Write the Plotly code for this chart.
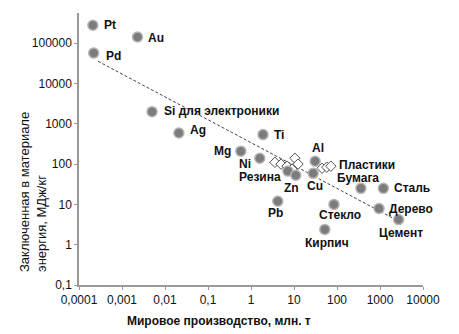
import plotly.graph_objects as go
import math

# ---- data ----
materials = ["Pt", "Au", "Pd", "Si для электроники", "Ag", "Mg", "Ti", "Ni", "Резина",
             "Zn", "Cu", "Al", "Бумага", "Сталь", "Дерево", "Цемент", "Стекло", "Кирпич", "Pb"]
production = [0.00021, 0.0023, 0.00022, 0.005, 0.021, 0.58, 1.9, 1.6, 7.2,
              11, 28, 31, 360, 1200, 950, 2700, 85, 52, 4.2]
energy = [280000, 143000, 57000, 2000, 590, 210, 540, 140, 67,
          53, 59, 118, 25, 25, 7.9, 4.2, 10, 2.4, 12]

plastics_label = "Пластики"
plastics_production = [3.6, 5.0, 6.9, 10.5, 12.4, 9.0, 45, 58, 72]
plastics_energy = [111, 100, 89, 140, 100, 75, 79, 84, 89]

trend_production = [0.000277, 2005]
trend_energy = [35700, 4.55]

x_tickvals = [0.0001, 0.001, 0.01, 0.1, 1, 10, 100, 1000, 10000]
x_ticktext = ["0,0001", "0,001", "0,01", "0,1", "1", "10", "100", "1000", "10000"]
y_tickvals = [0.1, 1, 10, 100, 1000, 10000, 100000]
y_ticktext = ["0,1", "1", "10", "100", "1000", "10000", "100000"]

x_title = "Мировое производство, млн. т"
y_title = "Заключенная в материале<br>энергия, МДж/кг"

# ---- label placement (layout only) ----
label_style = {
    "Pt": ("left", 9, 0), "Au": ("left", 8, -1), "Pd": ("left", 10, -3),
    "Si для электроники": ("left", 10, 1), "Ag": ("left", 9, 3),
    "Mg": ("right", -8, 0), "Ti": ("left", 9, 0), "Ni": ("right", -7, -6),
    "Резина": ("right", -5, -6), "Zn": ("center", -4, -13), "Cu": ("center", 2, -13),
    "Al": ("center", 3, 13), "Бумага": ("center", -3, 10), "Сталь": ("left", 9, 0),
    "Дерево": ("left", 8, 0), "Цемент": ("center", 2, -13), "Стекло": ("center", 6, -11),
    "Кирпич": ("center", 2, -14), "Pb": ("center", -2, -12),
}

FONT = "Liberation Sans, Arial, sans-serif"
L, R, T, B = 79, 36, 13, 49
W, H = 459, 334
PW, PH = W - L - R, H - T - B

fig = go.Figure()
fig.add_trace(go.Scatter(
    x=trend_production, y=trend_energy, mode="lines",
    line=dict(color="#444444", width=1, dash="3px,2px"), hoverinfo="skip", showlegend=False))
fig.add_trace(go.Scatter(
    x=plastics_production, y=plastics_energy, mode="markers",
    marker=dict(symbol="diamond", size=8, color="white", line=dict(color="#555555", width=1)),
    showlegend=False))
fig.add_trace(go.Scatter(
    x=production, y=energy, mode="markers",
    marker=dict(symbol="circle", size=10, color="#7c7c7c", line=dict(color="#b5b5b5", width=1.5)),
    showlegend=False))

ann = []
for name, xv, yv in zip(materials, production, energy):
    anc, dx, dy = label_style[name]
    ann.append(dict(x=math.log10(xv), y=math.log10(yv), xref="x", yref="y", text="<b>%s</b>" % name,
                    showarrow=False, xanchor=anc, yanchor="middle", xshift=dx, yshift=dy,
                    font=dict(family=FONT, size=12, color="#111111")))
imax = plastics_production.index(max(plastics_production))
ann.append(dict(x=math.log10(plastics_production[imax]), y=math.log10(plastics_energy[imax]),
                xref="x", yref="y", text="<b>%s</b>" % plastics_label, showarrow=False,
                xanchor="left", yanchor="middle", xshift=6, yshift=1,
                font=dict(family=FONT, size=12, color="#111111")))
# y axis title (two lines, rotated, starting at the bottom)
ann.append(dict(x=(33 - L) / PW, y=(H - B - 274) / PH, xref="paper", yref="paper", text=y_title,
                textangle=-90, showarrow=False, xanchor="center", yanchor="bottom", align="left",
                font=dict(family=FONT, size=13, color="#111111")))
# x axis title
ann.append(dict(x=(219 - L) / PW, y=-(321 - (H - B)) / PH, xref="paper", yref="paper",
                text="<b>%s</b>" % x_title, showarrow=False, xanchor="center", yanchor="middle",
                font=dict(family=FONT, size=12, color="#111111")))

fig.update_layout(
    width=W, height=H, margin=dict(l=L, r=R, t=T, b=B),
    paper_bgcolor="white", plot_bgcolor="white",
    annotations=ann,
    xaxis=dict(type="log", range=[-4, 4], tickvals=x_tickvals, ticktext=x_ticktext,
               showgrid=False, zeroline=False, showline=True, linecolor="#999999", linewidth=1.5,
               ticks="outside", ticklen=3, tickcolor="#999999",
               tickfont=dict(family=FONT, size=12, color="#111111")),
    yaxis=dict(type="log", range=[-1, 5.75], tickvals=y_tickvals, ticktext=y_ticktext,
               showgrid=False, zeroline=False, showline=True, linecolor="#999999", linewidth=1.5,
               ticks="outside", ticklen=3, tickcolor="#999999",
               tickfont=dict(family=FONT, size=12, color="#111111")),
)

fig.write_html("out.html")
